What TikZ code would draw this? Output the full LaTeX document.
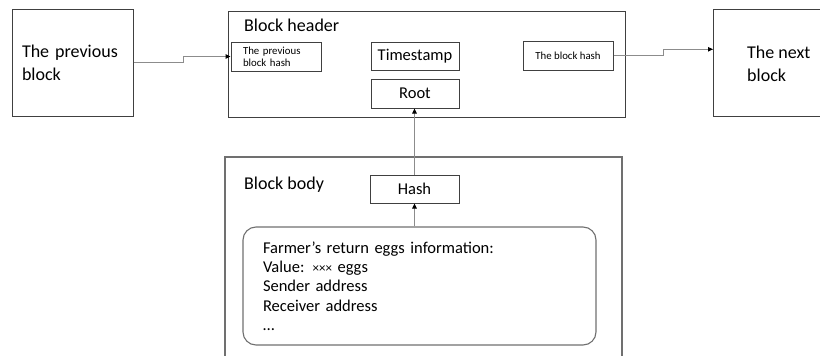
\documentclass[tikz,border=0pt]{standalone}
\usepackage{fontspec}
\setmainfont{Carlito}
\usetikzlibrary{arrows.meta}
\definecolor{boxline}{HTML}{404040}
\definecolor{conline}{HTML}{8C8C8C}
\definecolor{bodyline}{HTML}{707070}
\tikzset{
  bigbox/.style={draw=boxline, line width=1pt, inner sep=0pt},
  smallbox/.style={draw=boxline, line width=1pt, inner sep=0pt, font=\fontsize{16.5}{19.3}\selectfont},
  hashbox/.style={draw=boxline, line width=1pt, inner sep=0pt, font=\fontsize{10.8}{12}\selectfont, align=left},
  bigtext/.style={font=\fontsize{18}{23.3}\selectfont, align=left, inner sep=0pt},
  titletext/.style={font=\fontsize{18}{21}\selectfont, inner sep=0pt, anchor=base west},
  conn/.style={draw=conline, line width=1pt, -{Triangle[length=5pt,width=4.5pt,color=black]}}
}
\begin{document}
\begin{tikzpicture}[x=1pt,y=-1pt]
\useasboundingbox (0,0) rectangle (820,356);
% previous block
\node[bigbox, bigtext, minimum width=121pt, minimum height=107pt, text width=101pt] (prev) at (72.5,62.5) {The previous\\block};
% block header
\node[bigbox, minimum width=397pt, minimum height=106pt] (header) at (426.5,64) {};
\node[titletext] (htitle) at (244,31.7) {Block header};
\node[hashbox, minimum width=90pt, minimum height=29pt, text width=66pt] (prevhash) at (276,56.5) {The previous\\block hash};
\node[smallbox, minimum width=88pt, minimum height=28pt] (time) at (415,56) {Timestamp};
\node[smallbox, minimum width=88pt, minimum height=29pt] (root) at (415,93.5) {Root};
\node[hashbox, minimum width=90pt, minimum height=29pt] (blockhash) at (568,55.5) {The block hash};
% next block (cut at the right edge)
\draw[draw=boxline, line width=1pt] (820,9) -- (713,9) -- (713,116) -- (820,116);
\coordinate (nextL) at (713,49.3);
\node[bigtext, anchor=west] (nexttext) at (747,63.5) {The next\\block};
% block body (cut at the bottom edge)
\draw[draw=bodyline, line width=1.1pt] (225,357) -- (225,157) -- (622,157) -- (622,357);
\node[titletext] (btitle) at (244,189.5) {Block body};
\node[smallbox, minimum width=89pt, minimum height=28pt] (hash) at (414.5,189) {Hash};
\node[draw=bodyline, line width=1.1pt, rounded corners=13pt, minimum width=353pt, minimum height=118pt, inner sep=0pt, text width=313pt, align=left, font=\fontsize{16.5}{19.3}\selectfont] (info) at (419.5,286)
  {Farmer’s return eggs information:\\Value: {\fontsize{13}{19.3}\selectfont×××} eggs\\Sender address\\Receiver address\\…};
% connectors
\draw[conn] (prev.east) -- ++(50,0) |- (prevhash.west);
\draw[conn] (blockhash.east) -- ++(50,0) |- (nextL);
\draw[conn] (hash.north) -- (hash.north |- root.south);
\draw[conn] (info.north -| hash.south) -- (hash.south);
\end{tikzpicture}
\end{document}
